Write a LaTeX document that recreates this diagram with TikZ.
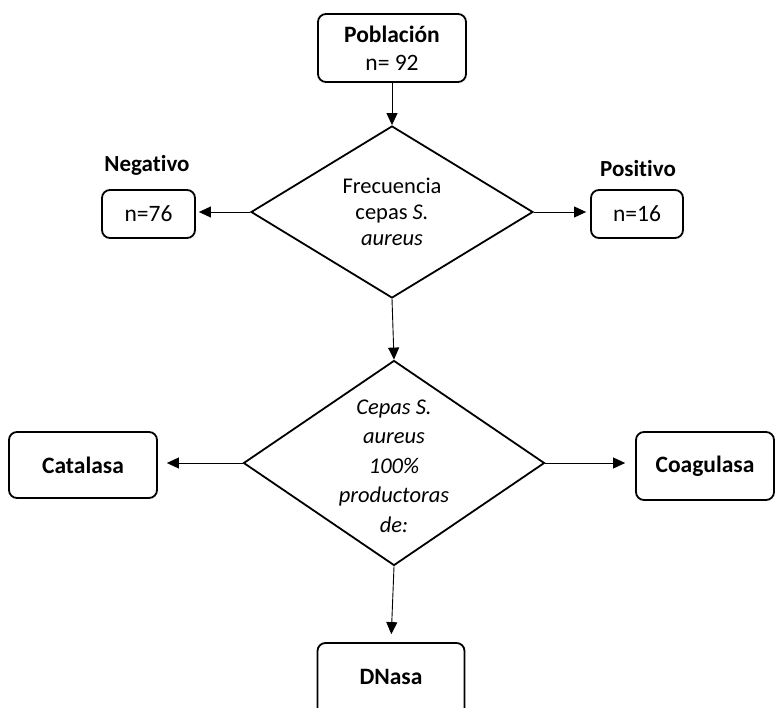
\documentclass[tikz,border=0pt]{standalone}
\usepackage{fontspec}
\setmainfont{Carlito}[Ligatures=NoCommon]
\usetikzlibrary{shapes.geometric,arrows.meta}
\begin{document}
\begin{tikzpicture}[x=1pt,y=-1pt,
  box/.style={draw,rounded corners=8pt,line width=1.8pt,inner sep=0pt,align=center,
    font=\fontsize{23.5}{28}\selectfont},
  dia/.style={draw,diamond,line width=1.8pt,inner sep=0pt},
  dtext/.style={align=center,inner sep=0pt},
  lbl/.style={font=\fontsize{23}{26}\selectfont\bfseries,inner sep=0pt},
  arr/.style={-{Triangle[length=12pt,width=11pt]},line width=0.9pt}]
\useasboundingbox (0,0) rectangle (775,708);
\clip (0,0) rectangle (775,708);
% boxes
\node[box,minimum width=148pt,minimum height=68pt] (pob) at (392,48) {\textbf{Población}\\n= 92};
\node[box,minimum width=93pt,minimum height=48pt] (neg) at (148.5,214) {n=76};
\node[box,minimum width=92pt,minimum height=48pt] (pos) at (637,214) {n=16};
\node[box,minimum width=148pt,minimum height=66pt] (cat) at (83,465) {\textbf{Catalasa}};
\node[box,minimum width=138pt,minimum height=68pt] (coa) at (705,466) {\textbf{Coagulasa}};
\node[box,minimum width=147pt,minimum height=76pt,text depth=0pt] (dna) at (391,681) {};
\node[font=\fontsize{23.5}{28}\selectfont\bfseries,inner sep=0pt] (dnat) at (391,677) {DNasa};
% labels
\node[lbl] (negl) at (147,165) {Negativo};
\node[lbl] (posl) at (638,169) {Positivo};
% diamonds
\node[dia,minimum width=282pt,minimum height=172pt] (d1) at (392,212) {};
\node[dtext,font=\fontsize{22.5}{26}\selectfont] (d1t) at (392,212) {Frecuencia\\cepas \textit{S.}\\\textit{aureus}};
\node[dia,minimum width=301pt,minimum height=205pt] (d2) at (394,463) {};
\node[dtext,font=\fontsize{22.5}{29.5}\selectfont\itshape] (d2t) at (394,466) {Cepas S.\\aureus\\100\%\\productoras\\de:};
% arrows
\draw[arr] (pob.south) -- (d1.north);
\draw[arr,shorten >=3pt] (d1.west) -- (d1.west -| neg.east);
\draw[arr,shorten >=4pt] (d1.east) -- (d1.east -| pos.west);
\draw[arr] (d1.south) -- (d2.north);
\draw[arr,shorten >=9pt] (d2.west) -- (d2.west -| cat.east);
\draw[arr,shorten >=10pt] (d2.east) -- (d2.east -| coa.west);
\draw[arr,shorten >=8pt] (d2.south) -- (dna.north);
\end{tikzpicture}
\end{document}
